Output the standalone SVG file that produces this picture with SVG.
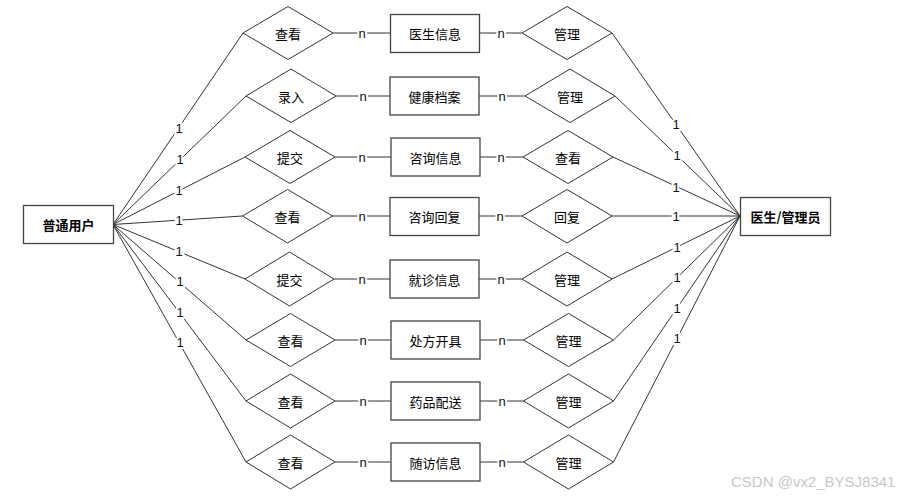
<svg xmlns="http://www.w3.org/2000/svg" width="918" height="497" viewBox="0 0 918 497">
<style>
.ent{fill:#fff;stroke:#444;stroke-width:1.3}
.dia{fill:#fff;stroke:#333;stroke-width:1}
.t{font-family:"Noto Sans CJK SC","Microsoft YaHei",sans-serif;font-size:13px;fill:#000;text-anchor:middle;dominant-baseline:central}
.b{font-weight:bold}
.ln{stroke:#333;stroke-width:1;fill:none}
.lbl{font-family:"Liberation Sans",Arial,sans-serif;font-size:13px;fill:#111;text-anchor:middle;dominant-baseline:central;stroke:#fff;stroke-width:4;paint-order:stroke}
.wm{font-family:"Liberation Sans",Arial,sans-serif;font-size:15px;fill:#c8c8c8}
</style>
<rect width="918" height="497" fill="#fff"/>
<g id="connectors">
<!-- left entity to left diamonds -->
<path class="ln" d="M113,224.5 L243,33"/>
<path class="ln" d="M113,224.5 L246,96"/>
<path class="ln" d="M113,224.5 L245,157"/>
<path class="ln" d="M113,224.5 L242.5,216"/>
<path class="ln" d="M113,224.5 L245,279"/>
<path class="ln" d="M113,224.5 L246,340"/>
<path class="ln" d="M113,224.5 L246,401"/>
<path class="ln" d="M113,224.5 L246,462"/>
<!-- right diamonds to right entity -->
<path class="ln" d="M612,33 L740,216"/>
<path class="ln" d="M615,96 L740,216"/>
<path class="ln" d="M613,157 L740,216"/>
<path class="ln" d="M612,216 L740,216"/>
<path class="ln" d="M612,279 L740,216"/>
<path class="ln" d="M613.5,340 L740,216"/>
<path class="ln" d="M613.5,401 L740,216"/>
<path class="ln" d="M613.5,462 L740,216"/>
<!-- diamond to box to diamond -->
<path class="ln" d="M333,33 H390.5 M479.5,33 H522"/>
<path class="ln" d="M336,96 H390 M479,96 H525"/>
<path class="ln" d="M335,157 H391 M480,157 H523"/>
<path class="ln" d="M332.5,216 H390 M479,216 H522"/>
<path class="ln" d="M334,279 H390 M479,279 H522"/>
<path class="ln" d="M335,340 H391 M480,340 H523.5"/>
<path class="ln" d="M335,401 H391 M480,401 H523.5"/>
<path class="ln" d="M335,462 H391 M480,462 H523.5"/>
<!-- n labels -->
<text class="lbl" x="362" y="33">n</text><text class="lbl" x="501" y="33">n</text>
<text class="lbl" x="363" y="96">n</text><text class="lbl" x="502" y="96">n</text>
<text class="lbl" x="362" y="157">n</text><text class="lbl" x="501" y="157">n</text>
<text class="lbl" x="362" y="216">n</text><text class="lbl" x="500" y="216">n</text>
<text class="lbl" x="362" y="279">n</text><text class="lbl" x="501" y="279">n</text>
<text class="lbl" x="363" y="340">n</text><text class="lbl" x="502" y="340">n</text>
<text class="lbl" x="363" y="401">n</text><text class="lbl" x="502" y="401">n</text>
<text class="lbl" x="363" y="462">n</text><text class="lbl" x="502" y="462">n</text>
<!-- 1 labels left -->
<text class="lbl" x="179" y="128.5">1</text>
<text class="lbl" x="180" y="159.5">1</text>
<text class="lbl" x="179" y="190.5">1</text>
<text class="lbl" x="179" y="220">1</text>
<text class="lbl" x="179" y="251">1</text>
<text class="lbl" x="180" y="281">1</text>
<text class="lbl" x="180" y="312">1</text>
<text class="lbl" x="180" y="342.5">1</text>
<!-- 1 labels right -->
<text class="lbl" x="676" y="124">1</text>
<text class="lbl" x="677" y="155">1</text>
<text class="lbl" x="676" y="187">1</text>
<text class="lbl" x="676" y="216">1</text>
<text class="lbl" x="677" y="247">1</text>
<text class="lbl" x="677" y="277.5">1</text>
<text class="lbl" x="677" y="308.5">1</text>
<text class="lbl" x="677" y="338.5">1</text>
</g>
<g id="user"><rect class="ent" x="23.5" y="205.5" width="90" height="38"/><text class="t b" x="68.5" y="224.5">普通用户</text></g>
<g id="doctor"><rect class="ent" x="740.5" y="197.5" width="90" height="38"/><text class="t b" x="785.5" y="216.5">医生/管理员</text></g>

<g id="r1-left"><polygon class="dia" points="243,33 288,6.5 333,33 288,59.5"/><text class="t" x="288" y="33">查看</text></g>
<g id="r1-box"><rect class="ent" x="390.5" y="14.5" width="89" height="38"/><text class="t" x="435" y="33.5">医生信息</text></g>
<g id="r1-right"><polygon class="dia" points="522,33 567,6.5 612,33 567,59.5"/><text class="t" x="567" y="33">管理</text></g>

<g id="r2-left"><polygon class="dia" points="246,96 291,69 336,96 291,122.5"/><text class="t" x="291" y="96">录入</text></g>
<g id="r2-box"><rect class="ent" x="390" y="77" width="89" height="38"/><text class="t" x="434.5" y="96">健康档案</text></g>
<g id="r2-right"><polygon class="dia" points="525,96 570,69 615,96 570,122.5"/><text class="t" x="570" y="96">管理</text></g>

<g id="r3-left"><polygon class="dia" points="245,157 290,130.5 335,157 290,183.5"/><text class="t" x="290" y="157">提交</text></g>
<g id="r3-box"><rect class="ent" x="391" y="138" width="89" height="38"/><text class="t" x="435.5" y="157">咨询信息</text></g>
<g id="r3-right"><polygon class="dia" points="523,157 568,130.5 613,157 568,183.5"/><text class="t" x="568" y="157">查看</text></g>

<g id="r4-left"><polygon class="dia" points="242.5,216 287.5,189.5 332.5,216 287.5,243"/><text class="t" x="287.5" y="216">查看</text></g>
<g id="r4-box"><rect class="ent" x="390" y="197.5" width="89" height="38"/><text class="t" x="434.5" y="216.5">咨询回复</text></g>
<g id="r4-right"><polygon class="dia" points="522,216 567,189.5 612,216 567,243"/><text class="t" x="567" y="216">回复</text></g>

<g id="r5-left"><polygon class="dia" points="245,279 289.5,252 334,279 289.5,306"/><text class="t" x="289.5" y="279">提交</text></g>
<g id="r5-box"><rect class="ent" x="390" y="260" width="89" height="38"/><text class="t" x="434.5" y="279">就诊信息</text></g>
<g id="r5-right"><polygon class="dia" points="522,279 567,252 612,279 567,306"/><text class="t" x="567" y="279">管理</text></g>

<g id="r6-left"><polygon class="dia" points="246,340 290.5,313.5 335,340 290.5,366.5"/><text class="t" x="290.5" y="340">查看</text></g>
<g id="r6-box"><rect class="ent" x="391" y="321" width="89" height="38"/><text class="t" x="435.5" y="340">处方开具</text></g>
<g id="r6-right"><polygon class="dia" points="523.5,340 568.5,313.5 613.5,340 568.5,366.5"/><text class="t" x="568.5" y="340">管理</text></g>

<g id="r7-left"><polygon class="dia" points="246,401 290.5,374 335,401 290.5,428"/><text class="t" x="290.5" y="401">查看</text></g>
<g id="r7-box"><rect class="ent" x="391" y="382" width="89" height="38"/><text class="t" x="435.5" y="401">药品配送</text></g>
<g id="r7-right"><polygon class="dia" points="523.5,401 568.5,374 613.5,401 568.5,428"/><text class="t" x="568.5" y="401">管理</text></g>

<g id="r8-left"><polygon class="dia" points="246,462 290.5,435 335,462 290.5,489"/><text class="t" x="290.5" y="462">查看</text></g>
<g id="r8-box"><rect class="ent" x="391" y="443" width="89" height="38"/><text class="t" x="435.5" y="462">随访信息</text></g>
<g id="r8-right"><polygon class="dia" points="523.5,462 568.5,435 613.5,462 568.5,489"/><text class="t" x="568.5" y="462">管理</text></g>

<text class="wm" x="731" y="487">CSDN @vx2_BYSJ8341</text>
</svg>
